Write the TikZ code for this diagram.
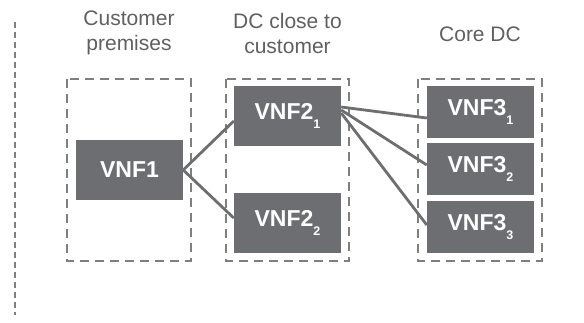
\documentclass[tikz,border=0pt]{standalone}
\usepackage{fontspec}
\setmainfont{Liberation Sans}
\definecolor{boxgrey}{HTML}{6D6E71}
\definecolor{dashgrey}{HTML}{7F7F7F}
\definecolor{textgrey}{HTML}{606060}
\newcommand{\vsub}[1]{\raisebox{-0.4em}{\fontsize{12.5}{12.5}\selectfont #1}}
\tikzset{
  vnf/.style={fill=boxgrey, text=white, inner sep=0pt, minimum width=107pt,
    font=\fontsize{23}{23}\selectfont\bfseries},
  tall/.style={minimum height=60pt},
  short/.style={minimum height=52pt},
  zone/.style={draw=dashgrey, line width=2.8pt, dash pattern=on 9pt off 6pt},
  heading/.style={text=textgrey, align=center, inner sep=0pt,
    font=\fontsize{21}{25}\selectfont},
  link/.style={draw=boxgrey, line width=2.8pt},
  divider/.style={draw=dashgrey, line width=2.2pt, dash pattern=on 6pt off 4pt}
}
\begin{document}
\begin{tikzpicture}[x=1pt,y=-1pt]
\useasboundingbox (0,0) rectangle (584,322);
% divider
\coordinate (dtop) at (15,22);
\coordinate (dbot) at (15,315);
\draw[divider] (dtop) -- (dbot);
% zones
\draw[zone] (67,79) rectangle (191,261);
\draw[zone] (226,79) rectangle (349,261);
\draw[zone] (418,79) rectangle (542,261);
% headings
\node[heading] (h1) at (129,33) {Customer\\premises};
\node[heading] (h2) at (287.5,33) {DC close to\\customer};
\node[heading] (h3) at (480,34) {Core DC};
% nodes
\node[vnf,tall] (v1) at (129.5,170) {VNF1};
\node[vnf,tall] (v21) at (287.5,116) {VNF2\vsub{1}};
\node[vnf,tall] (v22) at (287.5,223) {VNF2\vsub{2}};
\node[vnf,short] (v31) at (480.5,112) {VNF3\vsub{1}};
\node[vnf,short] (v32) at (480.5,169) {VNF3\vsub{2}};
\node[vnf,short] (v33) at (480.5,227) {VNF3\vsub{3}};
% links
\draw[link] (v1.east) -- ([yshift=-5pt]v21.west);
\draw[link] (v1.east) -- ([yshift=5pt]v22.west);
\draw[link] ([yshift=9pt]v21.east) -- ([yshift=-6pt]v31.west);
\draw[link] ([yshift=6pt]v21.east) -- ([yshift=4pt]v32.west);
\draw[link] ([yshift=3pt]v21.east) -- ([yshift=2pt]v33.west);
\end{tikzpicture}
\end{document}
